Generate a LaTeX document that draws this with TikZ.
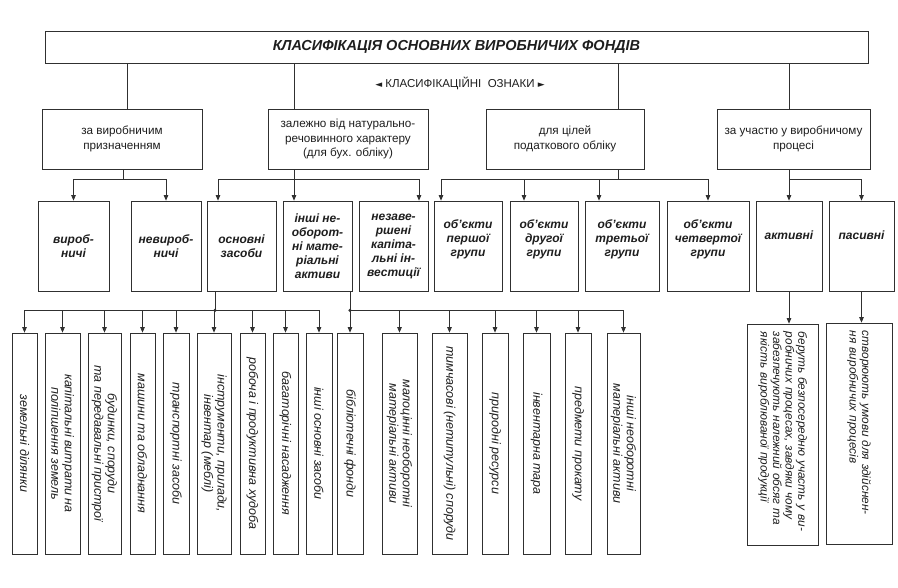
\documentclass[tikz,border=0pt]{standalone}
\usepackage{fontspec}
\setmainfont{Liberation Sans}
\newfontfamily\symbfont{DejaVu Sans}
\usetikzlibrary{arrows.meta}
\definecolor{Cline}{HTML}{303030}
\definecolor{Ctext}{HTML}{1E1E1E}

\begin{document}
\begin{tikzpicture}[x=1pt,y=1pt,
	box/.style={draw=Cline,line width=0.75pt,inner sep=2pt,align=center,text=Ctext},
	krit/.style={box,minimum width=#1pt,minimum height=60pt,font=\fontsize{11.7}{14.5}\selectfont},
	vid/.style={box,minimum width=#1pt,minimum height=90pt,font=\fontsize{12}{14}\selectfont\bfseries\itshape},
	up/.style={text depth=#1pt},
	item/.style={box,rotate=-90,minimum width=221pt,minimum height=#1pt,inner sep=1pt,font=\fontsize{12.5}{13.5}\selectfont\itshape},
	note/.style={align=left,text width=205pt,font=\fontsize{11.8}{12.6}\selectfont\itshape},
	wire/.style={draw=Cline,line width=0.75pt},
	arr/.style={wire,-{Triangle[length=5.5pt,width=4.5pt]}},
	]
	\path[use as bounding box,fill=white] (0,0) rectangle (898,-588);

	% title
	\node[box,minimum width=823pt,minimum height=32pt,font=\fontsize{14.5}{16}\selectfont\bfseries\itshape]
	(title) at (456.5,-47) {КЛАСИФІКАЦІЯ ОСНОВНИХ ВИРОБНИЧИХ ФОНДІВ};
	\node[text=Ctext,font=\fontsize{11.5}{13}\selectfont] (ozn) at (460,-83)
	{{\symbfont\fontsize{9}{9}\selectfont ◄} КЛАСИФІКАЦІЙНІ ~ОЗНАКИ {\symbfont\fontsize{9}{9}\selectfont ►}};

	% criteria
	\node[krit=160] (k1) at (122,-139) {за виробничим\\призначенням};
	\node[krit=160] (k2) at (348,-139) {залежно від натурально-\\речовинного характеру\\(для бух. обліку)};
	\node[krit=158] (k3) at (565,-139) {для цілей\\податкового обліку};
	\node[krit=153] (k4) at (793.5,-139) {за участю у виробничому\\процесі};

	% groups
	\node[vid=71] (v1) at (73.5,-246) {вироб-\\ничі};
	\node[vid=70] (v2) at (166,-246) {невироб-\\ничі};
	\node[vid=69] (os) at (241.5,-246) {основні\\засоби};
	\node[vid=69] (in) at (317.5,-246) {інші не-\\оборот-\\ні мате-\\ріальні\\активи};
	\node[vid=69] (nk) at (393.5,-246) {незаве-\\ршені\\капіта-\\льні ін-\\вестиції};
	\node[vid=68,up=16] (g1) at (468,-246) {об’єкти\\першої\\групи};
	\node[vid=68,up=16] (g2) at (544,-246) {об’єкти\\другої\\групи};
	\node[vid=74,up=16] (g3) at (622,-246) {об’єкти\\третьої\\групи};
	\node[vid=82,up=16] (g4) at (708,-246) {об’єкти\\четвертої\\групи};
	\node[vid=66,up=21] (ak) at (789,-246) {активні};
	\node[vid=65,up=21] (pa) at (861.5,-246) {пасивні};

	% items
	\node[item=25] (b1) at (24.5,-443.5) {земельні ділянки};
	\node[item=35] (b2) at (62.5,-443.5) {капітальні витрати на\\поліпшення земель};
	\node[item=33] (b3) at (104.5,-443.5) {будинки, споруди\\та передавальні пристрої};
	\node[item=25] (b4) at (142.5,-443.5) {машини та обладнання};
	\node[item=26] (b5) at (176,-443.5) {транспортні засоби};
	\node[item=34] (b6) at (214,-443.5) {інструменти, прилади,\\інвентар (меблі)};
	\node[item=25] (b7) at (252.5,-443.5) {робоча і продуктивна худоба};
	\node[item=25] (b8) at (285.5,-443.5) {багаторічні насадження};
	\node[item=26] (b9) at (319,-443.5) {інші основні засоби};
	\node[item=26] (b10) at (350,-443.5) {бібліотечні фонди};
	\node[item=35] (b11) at (399.5,-443.5) {малоцінні необоротні\\матеріальні активи};
	\node[item=35] (b12) at (449.5,-443.5) {тимчасові (нетитульні) споруди};
	\node[item=26] (b13) at (495,-443.5) {природні ресурси};
	\node[item=27] (b14) at (536.5,-443.5) {інвентарна тара};
	\node[item=26] (b15) at (578,-443.5) {предмети прокату};
	\node[item=33] (b16) at (623.5,-443.5) {інші необоротні\\матеріальні активи};
	\node[item=71,note] (r1) at (782.5,-434.5)
	{беруть безпосередню участь у ви-\\робничих процесах, завдяки чому\\забезпечують належний обсяг та\\якість вироблюваної продукції};
	\node[item=66,note] (r2) at (859,-433.5) {створюють умови для здійснен-\\ня виробничих процесів};

	% title to criteria
	\path ([xshift=5pt]k1.north) coordinate (t1) ([xshift=-54pt]k2.north) coordinate (t2)
	([xshift=53pt]k3.north) coordinate (t3) ([xshift=-4.5pt]k4.north) coordinate (t4);
	\foreach \i in {1,...,4}
	\draw[wire] (t\i) -- (t\i |- title.south);

	% criteria to groups
	\foreach \k/\s/\j in {k1/1/j1,k2/-54/j2,k3/53/j3,k4/-4.5/j4}
	\draw[wire] ([xshift=\s pt]\k.south) -- ++(0,-10) coordinate (\j);
	\draw[arr] (j1) -| (v1.north);
	\draw[arr] (j1) -| (v2.north);
	\draw[arr] (j2) -| ([xshift=-23.5pt]os.north);
	\draw[arr] (j2) -| ([xshift=-23.5pt]in.north);
	\draw[arr] (j2) -| ([xshift=25.5pt]nk.north);
	\draw[arr] (j3) -| ([xshift=-27pt]g1.north);
	\draw[arr] (j3) -| ([xshift=-20pt]g2.north);
	\draw[arr] (j3) -| ([xshift=-23pt]g3.north);
	\draw[arr] (j3) -| (g4.north);
	\draw[arr] (j4) -| (ak.north);
	\draw[arr] (j4) -| (pa.north);

	% groups to items
	\draw[wire] ([xshift=-26.5pt]os.south) -- ++(0,-19) coordinate (j5);
	\draw[wire] ([xshift=32.5pt]in.south) -- ++(0,-19) coordinate (j6);
	\foreach \i in {1,...,9}
	\draw[arr] (j5) -| (b\i.west);
	\foreach \i in {10,...,16}
	\draw[arr] (j6) -| (b\i.west);
	\fill[Cline] (j5) circle (1.7pt) (j6) circle (1.7pt);
	\draw[arr] (ak.south) -- (ak.south |- r1.west);
	\draw[arr] (pa.south) -- (pa.south |- r2.west);
\end{tikzpicture}
\end{document}
